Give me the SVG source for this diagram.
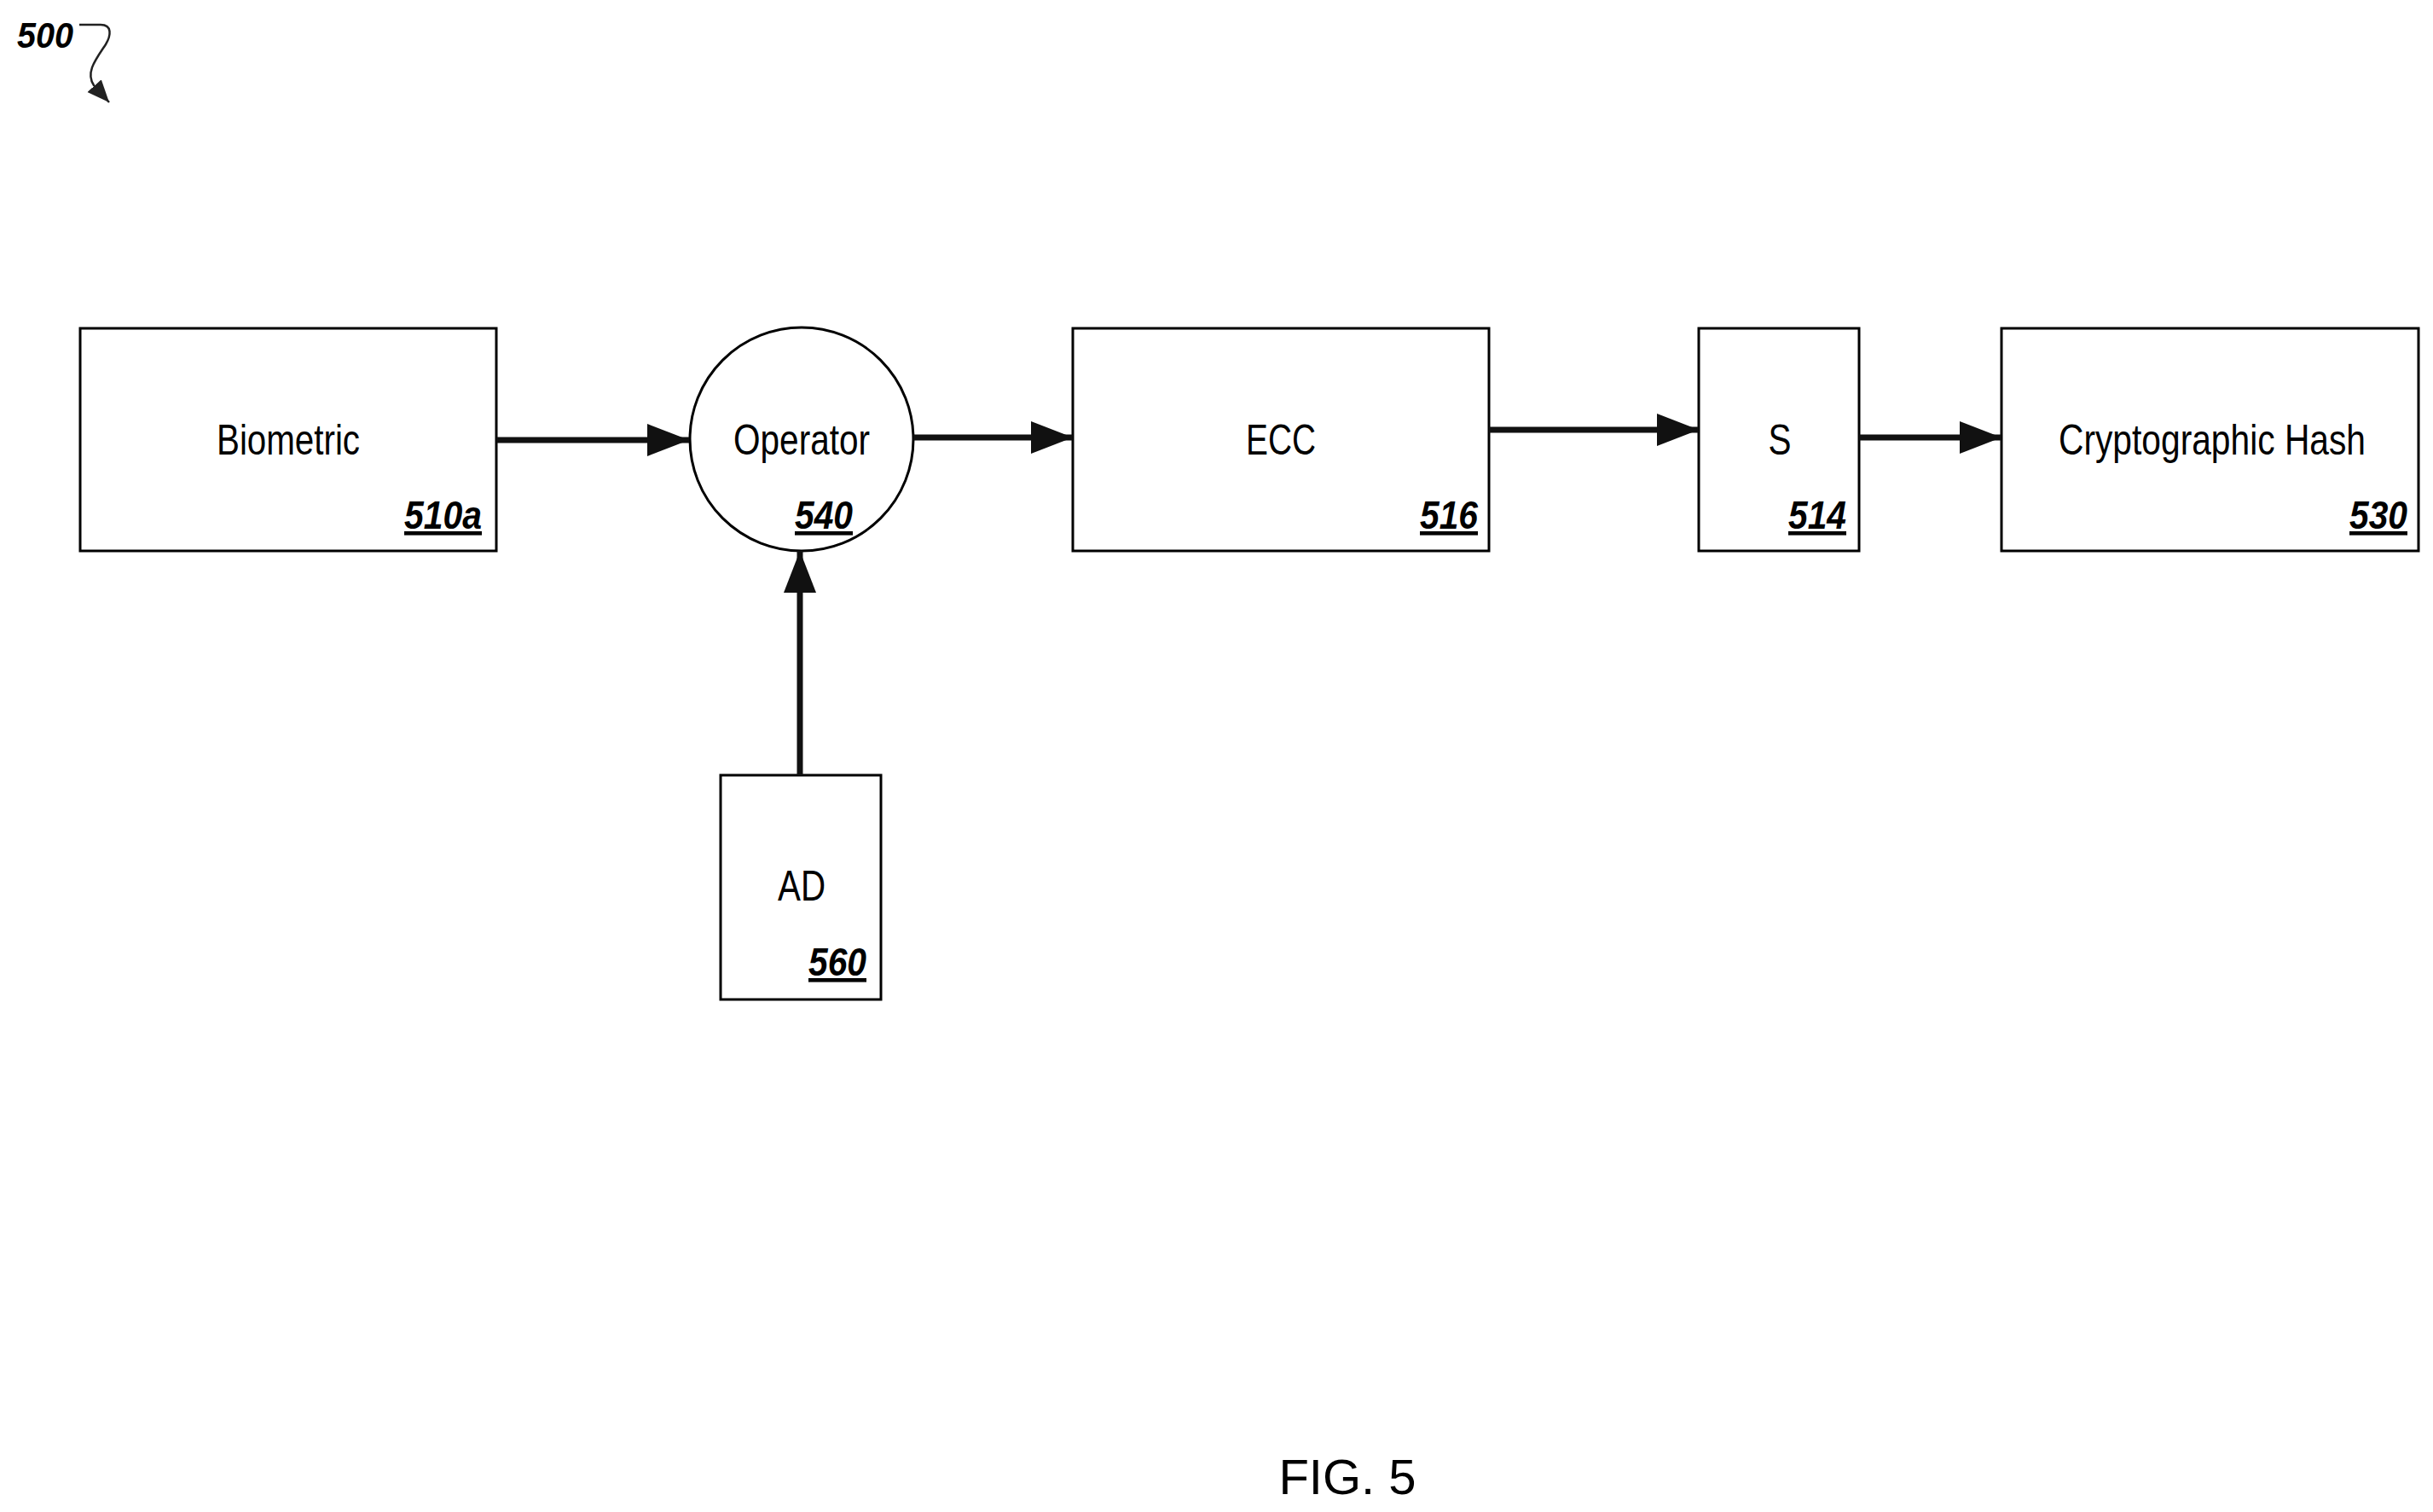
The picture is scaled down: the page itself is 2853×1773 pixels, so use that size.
<svg xmlns="http://www.w3.org/2000/svg" width="2853" height="1773" viewBox="0 0 2853 1773">
<style>
.box{fill:#fff;stroke:#000;stroke-width:3}
.lbl{font-family:"Liberation Sans",Arial,sans-serif;font-size:50px;text-anchor:middle;fill:#000}
.num{font-family:"Liberation Sans",Arial,sans-serif;font-size:46px;font-weight:bold;font-style:italic;text-anchor:end;text-decoration:underline;fill:#000}
.con{stroke:#111;stroke-width:7;fill:none;marker-end:url(#ah)}
</style>
<defs>
<marker id="ah" markerUnits="userSpaceOnUse" markerWidth="50" markerHeight="40" refX="49" refY="19" orient="auto">
<path d="M0,0 L49,19 L0,38 Z" fill="#111"/>
</marker>
<marker id="sm" markerUnits="userSpaceOnUse" markerWidth="30" markerHeight="30" refX="26" refY="11" orient="auto">
<path d="M0,0 L26,11 L0,22 Z" fill="#222"/>
</marker>
</defs>
<g id="ref500">
<text x="20" y="56" font-family="Liberation Sans,Arial,sans-serif" font-size="42" font-weight="bold" font-style="italic" textLength="66" lengthAdjust="spacingAndGlyphs">500</text>
<path d="M93,29 L118,29 C132,29 130,42 124,52 C112,70 100,85 110,100 L128,120" fill="none" stroke="#222" stroke-width="2.5" marker-end="url(#sm)"/>
</g>
<g id="biometric">
<rect class="box" x="94" y="385" width="488" height="261"/>
<text class="lbl" x="338" y="533" textLength="168" lengthAdjust="spacingAndGlyphs">Biometric</text>
<text class="num" x="565" y="620" textLength="91" lengthAdjust="spacingAndGlyphs">510a</text>
</g>
<g id="operator">
<circle class="box" cx="940" cy="515" r="131"/>
<text class="lbl" x="940" y="533" textLength="160" lengthAdjust="spacingAndGlyphs">Operator</text>
<text class="num" x="1000" y="620" textLength="68" lengthAdjust="spacingAndGlyphs">540</text>
</g>
<g id="ecc">
<rect class="box" x="1258" y="385" width="488" height="261"/>
<text class="lbl" x="1502" y="533" textLength="82" lengthAdjust="spacingAndGlyphs">ECC</text>
<text class="num" x="1733" y="620" textLength="68" lengthAdjust="spacingAndGlyphs">516</text>
</g>
<g id="s">
<rect class="box" x="1992" y="385" width="188" height="261"/>
<text class="lbl" x="2087" y="533" textLength="27" lengthAdjust="spacingAndGlyphs">S</text>
<text class="num" x="2165" y="620" textLength="68" lengthAdjust="spacingAndGlyphs">514</text>
</g>
<g id="hash">
<rect class="box" x="2347" y="385" width="489" height="261"/>
<text class="lbl" x="2594" y="533" textLength="360" lengthAdjust="spacingAndGlyphs">Cryptographic Hash</text>
<text class="num" x="2823" y="620" textLength="68" lengthAdjust="spacingAndGlyphs">530</text>
</g>
<g id="ad">
<rect class="box" x="845" y="909" width="188" height="263"/>
<text class="lbl" x="940" y="1056" textLength="56" lengthAdjust="spacingAndGlyphs">AD</text>
<text class="num" x="1016" y="1144" textLength="68" lengthAdjust="spacingAndGlyphs">560</text>
</g>
<g id="connectors">
<line class="con" x1="582" y1="516" x2="808" y2="516"/>
<line class="con" x1="1071" y1="513" x2="1258" y2="513"/>
<line class="con" x1="1746" y1="504" x2="1992" y2="504"/>
<line class="con" x1="2180" y1="513" x2="2347" y2="513"/>
<line class="con" x1="938" y1="909" x2="938" y2="646"/>
</g>
<text x="1580" y="1752" font-family="Liberation Sans,Arial,sans-serif" font-size="58" text-anchor="middle">FIG. 5</text>
</svg>
